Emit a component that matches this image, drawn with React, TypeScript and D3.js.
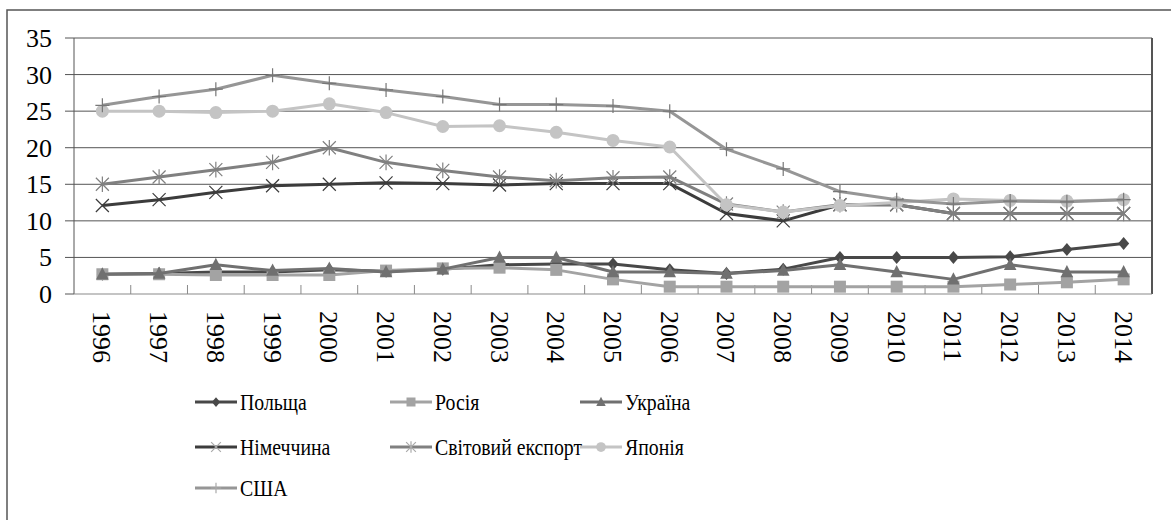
import React, { useEffect, useRef } from "react";
import * as d3 from "d3";

const years = ["1996","1997","1998","1999","2000","2001","2002","2003","2004","2005","2006","2007","2008","2009","2010","2011","2012","2013","2014"];
const yTicks = [0, 5, 10, 15, 20, 25, 30, 35];

const poland = [2.7, 2.8, 3.0, 3.0, 3.3, 3.1, 3.4, 4.0, 4.1, 4.1, 3.3, 2.8, 3.4, 5.0, 5.0, 5.0, 5.1, 6.1, 6.9];
const russia = [2.7, 2.7, 2.6, 2.6, 2.6, 3.2, 3.5, 3.6, 3.3, 2.0, 1.0, 1.0, 1.0, 1.0, 1.0, 1.0, 1.3, 1.6, 2.0];
const ukraine = [2.7, 2.8, 4.0, 3.2, 3.5, 3.0, 3.4, 5.0, 5.0, 3.0, 3.0, 2.8, 3.2, 4.0, 3.0, 2.0, 4.0, 3.0, 3.0];
const germany = [12.1, 12.9, 13.9, 14.8, 15.0, 15.2, 15.1, 14.9, 15.1, 15.1, 15.1, 11.0, 10.0, 12.2, 12.2, 11.0, 11.0, 11.0, 11.0];
const world = [15.0, 16.0, 17.0, 18.0, 20.0, 18.0, 16.9, 16.0, 15.5, 15.9, 16.0, 12.3, 11.2, 12.2, 12.2, 11.0, 11.0, 11.0, 11.0];
const japan = [25.0, 25.0, 24.8, 25.0, 26.0, 24.8, 22.9, 23.0, 22.1, 21.0, 20.1, 12.2, 11.2, 12.1, 12.5, 13.0, 12.8, 12.7, 12.9];
const usa = [25.8, 27.0, 28.0, 29.9, 28.8, 27.9, 27.0, 25.9, 25.9, 25.7, 25.0, 19.8, 17.1, 14.0, 12.9, 12.3, 12.7, 12.6, 12.9];

const seriesNames = ["Польща", "Росія", "Україна", "Німеччина", "Світовий експорт", "Японія", "США"];
const seriesValues = [poland, russia, ukraine, germany, world, japan, usa];
const seriesColors = ["#484848", "#a3a3a3", "#707070", "#3c3c3c", "#808080", "#c4c4c4", "#969696"];
const seriesMarkers = ["diamond", "square", "triangle", "x", "star", "circle", "plus"];

const W = 1171, H = 520;
const plot = { left: 74, right: 1152, top: 38, bottom: 294 };
const FONT = "Liberation Serif";

function markerPath(type: string, x: number, y: number, s: number): string {
  if (type === "diamond") {
    const r = 6.5 * s;
    return `M${x},${y - r}L${x + r * 0.85},${y}L${x},${y + r}L${x - r * 0.85},${y}Z`;
  }
  if (type === "square") {
    const r = 6 * s;
    return `M${x - r},${y - r}H${x + r}V${y + r}H${x - r}Z`;
  }
  if (type === "triangle") {
    const r = 7 * s;
    return `M${x},${y - r}L${x + r * 0.9},${y + r * 0.75}L${x - r * 0.9},${y + r * 0.75}Z`;
  }
  if (type === "circle") {
    const r = 6.5 * s;
    return `M${x - r},${y}A${r},${r} 0 1,0 ${x + r},${y}A${r},${r} 0 1,0 ${x - r},${y}Z`;
  }
  if (type === "x") {
    const r = 6.5 * s;
    return `M${x - r},${y - r}L${x + r},${y + r}M${x - r},${y + r}L${x + r},${y - r}`;
  }
  if (type === "star") {
    const r = 6.5 * s;
    return `M${x - r},${y - r}L${x + r},${y + r}M${x - r},${y + r}L${x + r},${y - r}M${x},${y - r * 1.2}L${x},${y + r * 1.2}`;
  }
  const r = 7 * s;
  return `M${x},${y - r}L${x},${y + r}M${x - r},${y}L${x + r},${y}`;
}

const stroked = (t: string) => t === "x" || t === "star" || t === "plus";

export default function App() {
  const ref = useRef<SVGSVGElement | null>(null);

  useEffect(() => {
    const svg = d3.select(ref.current);
    svg.selectAll("*").remove();

    const x = d3.scaleBand<string>().domain(years).range([plot.left, plot.right]).padding(0);
    const cx = (yr: string) => (x(yr) as number) + x.bandwidth() / 2;
    const y = d3.scaleLinear().domain([0, 35]).range([plot.bottom, plot.top]);
    const line = d3.line<number>().x((_, i) => cx(years[i])).y((d) => y(d));

    svg.append("rect").attr("x", 7).attr("y", 10).attr("width", W + 10).attr("height", H + 10)
      .attr("fill", "#fff").attr("stroke", "#555").attr("stroke-width", 1.5);

    yTicks.forEach((t) => {
      svg.append("line").attr("x1", plot.left - 9).attr("x2", t > 0 ? plot.right : plot.left)
        .attr("y1", y(t)).attr("y2", y(t)).attr("stroke", "#555").attr("stroke-width", 1);
      svg.append("text").attr("x", 52).attr("y", y(t) + 9).attr("text-anchor", "end")
        .attr("font-family", FONT).style("font-family", FONT).attr("font-size", 26).attr("fill", "#000").text(String(t));
    });

    svg.append("line").attr("x1", plot.left).attr("x2", plot.left).attr("y1", plot.top).attr("y2", plot.bottom)
      .attr("stroke", "#555").attr("stroke-width", 1);
    svg.append("line").attr("x1", plot.right).attr("x2", plot.right).attr("y1", plot.top).attr("y2", plot.bottom)
      .attr("stroke", "#555").attr("stroke-width", 2);
    svg.append("line").attr("x1", plot.left).attr("x2", plot.right).attr("y1", plot.bottom).attr("y2", plot.bottom)
      .attr("stroke", "#8a8a8a").attr("stroke-width", 1.2);

    years.slice(1).forEach((yr) => {
      svg.append("line").attr("x1", x(yr) as number).attr("x2", x(yr) as number)
        .attr("y1", plot.bottom - 9).attr("y2", plot.bottom).attr("stroke", "#8a8a8a").attr("stroke-width", 1);
    });
    years.forEach((yr) => {
      svg.append("text").attr("transform", `translate(${cx(yr) - 9},311) rotate(90)`)
        .attr("font-family", FONT).style("font-family", FONT).attr("font-size", 26).attr("fill", "#000").text(yr);
    });

    seriesValues.forEach((vals, si) => {
      const g = svg.append("g");
      g.append("path").attr("d", line(vals) as string).attr("fill", "none")
        .attr("stroke", seriesColors[si]).attr("stroke-width", 3).attr("stroke-linejoin", "round");
      const type = seriesMarkers[si];
      vals.forEach((v, i) => {
        const p = g.append("path").attr("d", markerPath(type, cx(years[i]), y(v), 1));
        if (stroked(type)) p.attr("fill", "none").attr("stroke", type === "plus" ? "#777" : seriesColors[si]).attr("stroke-width", 1.2);
        else p.attr("fill", seriesColors[si]);
      });
    });

    const legendCols = [195, 390, 580];
    const legendRows = [402, 447, 488];
    seriesNames.forEach((name, si) => {
      const lx = legendCols[si % 3];
      const ly = legendRows[Math.floor(si / 3)];
      const type = seriesMarkers[si];
      svg.append("line").attr("x1", lx).attr("x2", lx + 42).attr("y1", ly).attr("y2", ly)
        .attr("stroke", seriesColors[si]).attr("stroke-width", 3);
      const p = svg.append("path").attr("d", markerPath(type, lx + 21, ly, 0.75));
      if (stroked(type)) p.attr("fill", "none").attr("stroke", "#aaa").attr("stroke-width", 1.2);
      else p.attr("fill", seriesColors[si]);
      svg.append("text").attr("transform", `translate(${lx + 45},${ly + 8}) scale(0.86,1)`)
        .attr("font-family", FONT).style("font-family", FONT).attr("font-size", 23).attr("fill", "#000").text(name);
    });
  }, []);

  return (
    <svg ref={ref} width={W} height={H} style={{ position: "absolute", left: 0, top: 0, display: "block", background: "#fff" }} />
  );
}
